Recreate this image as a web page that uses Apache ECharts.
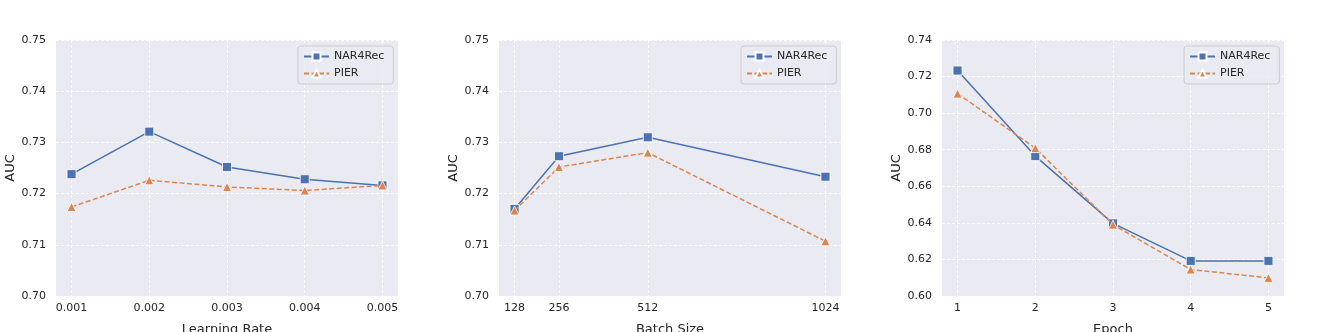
<!DOCTYPE html>
<html>
<head>
<meta charset="utf-8">
<script src="https://cdn.jsdelivr.net/npm/echarts@6/dist/echarts.min.js"></script>
<style>
  html, body { margin: 0; padding: 0; background: #ffffff; }
  #chart { width: 1329px; height: 332px; }
</style>
</head>
<body>
<div id="chart"></div>
<script>
// values
var lrValues = [0.001, 0.002, 0.003, 0.004, 0.005];
var lrNar = [0.7238, 0.7321, 0.7252, 0.7228, 0.7216];
var lrPier = [0.7174, 0.7226, 0.7213, 0.7206, 0.7216];

var bsValues = [128, 256, 512, 1024];
var bsNar = [0.7170, 0.7273, 0.7310, 0.7233];
var bsPier = [0.7167, 0.7252, 0.7280, 0.7107];

var epValues = [1, 2, 3, 4, 5];
var epNar = [0.7233, 0.6765, 0.6397, 0.6192, 0.6192];
var epPier = [0.7107, 0.6809, 0.6390, 0.6145, 0.6099];

var lrTickLabels = ["0.001", "0.002", "0.003", "0.004", "0.005"];
var bsTickLabels = ["128", "256", "512", "1024"];
var epTickLabels = ["1", "2", "3", "4", "5"];

var blue = "#4C72B0";
var orange = "#DD8452";
var textColor = "#262626";
var fontFamily = "DejaVu Sans";

var panels = [
  {left: 56, name: "Learning Rate", x: lrValues, labels: lrTickLabels, nar: lrNar, pier: lrPier,
   yMin: 0.70, yMax: 0.75, yStep: 0.01},
  {left: 499, name: "Batch Size", x: bsValues, labels: bsTickLabels, nar: bsNar, pier: bsPier,
   yMin: 0.70, yMax: 0.75, yStep: 0.01},
  {left: 942, name: "Epoch", x: epValues, labels: epTickLabels, nar: epNar, pier: epPier,
   yMin: 0.60, yMax: 0.74, yStep: 0.02}
];

var plotWidth = 342;
var plotTop = 40;
var plotHeight = 256;

function zip(xs, ys) {
  return xs.map(function(x, i) { return [x, ys[i]]; });
}

var gridLine = {show: true, lineStyle: {color: "#ffffff", width: 1, type: [3, 2]}};

var grids = [], xAxes = [], yAxes = [], series = [], legends = [];

panels.forEach(function(p, i) {
  var xs = p.x;
  var span = xs[xs.length - 1] - xs[0];
  var pad = span * 0.05;

  grids.push({
    left: p.left, top: plotTop, width: plotWidth, height: plotHeight,
    outerBoundsMode: "none",
    containLabel: false,
    show: true, backgroundColor: "#EAEAF2", borderWidth: 0
  });

  xAxes.push({
    type: "value",
    gridIndex: i,
    min: xs[0] - pad,
    max: xs[xs.length - 1] + pad,
    name: p.name,
    nameLocation: "middle",
    nameGap: 27,
    nameTextStyle: {color: textColor, fontSize: 13, fontFamily: fontFamily},
    axisLine: {show: false},
    axisTick: {show: false, customValues: xs},
    axisLabel: {
      customValues: xs,
      color: textColor, fontSize: 11, fontFamily: fontFamily, margin: 7,
      formatter: function(v) {
        var k = xs.indexOf(v);
        return k >= 0 ? p.labels[k] : "";
      }
    },
    splitLine: gridLine
  });

  yAxes.push({
    type: "value",
    gridIndex: i,
    min: p.yMin,
    max: p.yMax,
    interval: p.yStep,
    name: "AUC",
    nameLocation: "middle",
    nameGap: 36,
    nameTextStyle: {color: textColor, fontSize: 13, fontFamily: fontFamily},
    axisLine: {show: false},
    axisTick: {show: false},
    axisLabel: {
      color: textColor, fontSize: 11, fontFamily: fontFamily, margin: 10,
      formatter: function(v) { return v.toFixed(2); }
    },
    splitLine: gridLine
  });

  series.push({
    name: "NAR4Rec",
    type: "line",
    xAxisIndex: i, yAxisIndex: i,
    data: zip(xs, p.nar),
    symbol: "rect",
    symbolSize: 9,
    lineStyle: {color: blue, width: 1.5},
    itemStyle: {color: blue, borderColor: "#ffffff", borderWidth: 0.8},
    z: 3
  });

  series.push({
    name: "PIER",
    type: "line",
    xAxisIndex: i, yAxisIndex: i,
    data: zip(xs, p.pier),
    symbol: "triangle",
    symbolSize: 9,
    lineStyle: {color: orange, width: 1.5, type: [5, 2.5]},
    itemStyle: {color: orange, borderColor: "#ffffff", borderWidth: 0.8},
    z: 4
  });

  legends.push({
    orient: "vertical",
    left: p.left + 242,
    top: 46,
    data: ["NAR4Rec", "PIER"],
    itemWidth: 25,
    itemHeight: 10,
    itemGap: 6,
    padding: [5, 9, 5, 5],
    backgroundColor: "rgba(234,234,242,0.8)",
    borderColor: "#cccccc",
    borderWidth: 1,
    borderRadius: 3,
    selectedMode: false,
    textStyle: {color: textColor, fontSize: 11, fontFamily: fontFamily, lineHeight: 11}
  });
});

var chart = echarts.init(document.getElementById("chart"), null, {renderer: "canvas"});
chart.setOption({
  animation: false,
  backgroundColor: "#ffffff",
  grid: grids,
  xAxis: xAxes,
  yAxis: yAxes,
  legend: legends,
  series: series
});
</script>
</body>
</html>
